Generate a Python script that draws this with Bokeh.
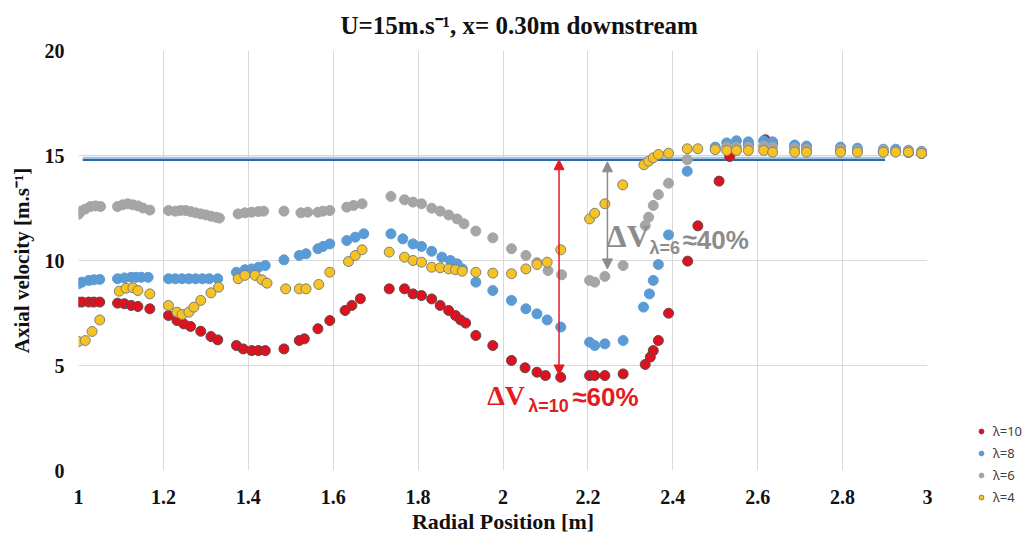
from bokeh.plotting import figure
from bokeh.layouts import row, column
from bokeh.models import (Legend, LegendItem, Arrow, NormalHead, Label,
                          FixedTicker, CustomJSTickFormatter, Range1d)
from bokeh.embed import file_html
from bokeh.resources import INLINE

# Axial velocity profiles 0.30 m downstream, free stream U = 15 m/s
r_l10 = [1.000, 1.008, 1.024, 1.036, 1.050, 1.092, 1.108, 1.124, 1.140, 1.168,
         1.212, 1.232, 1.248, 1.264, 1.288, 1.312, 1.328, 1.372, 1.388, 1.408,
         1.424, 1.440, 1.484, 1.520, 1.532, 1.564, 1.592, 1.628, 1.644, 1.664,
         1.732, 1.768, 1.788, 1.808, 1.832, 1.852, 1.872, 1.888, 1.900, 1.912,
         1.936, 1.976, 2.020, 2.052, 2.080, 2.100, 2.136, 2.204, 2.216, 2.240,
         2.283, 2.335, 2.347, 2.354, 2.366, 2.390, 2.435, 2.459, 2.509, 2.534,
         2.578, 2.618, 2.635, 2.687, 2.715, 2.795, 2.835, 2.896, 2.925, 2.955, 2.986]
v_l10 = [8.02, 8.02, 8.02, 8.02, 8.02, 7.97, 7.94, 7.86, 7.81, 7.70,
         7.38, 7.14, 6.98, 6.86, 6.63, 6.38, 6.22, 5.95, 5.79, 5.71,
         5.71, 5.71, 5.79, 6.19, 6.27, 6.75, 7.14, 7.62, 7.86, 8.18,
         8.65, 8.65, 8.41, 8.33, 8.17, 7.86, 7.62, 7.38, 7.17, 7.02,
         6.43, 5.95, 5.24, 4.89, 4.68, 4.52, 4.44, 4.52, 4.52, 4.52,
         4.60, 5.05, 5.40, 5.71, 6.19, 7.49, 9.97, 11.65, 13.78, 14.95,
         15.50, 15.75, 15.60, 15.40, 15.35, 15.30, 15.25, 15.20, 15.20, 15.15, 15.10]

r_l8 = [1.000, 1.008, 1.024, 1.036, 1.050, 1.092, 1.108, 1.124, 1.136, 1.148, 1.164,
        1.212, 1.228, 1.244, 1.260, 1.276, 1.292, 1.308, 1.328, 1.372, 1.392,
        1.408, 1.424, 1.440, 1.484, 1.520, 1.536, 1.564, 1.576, 1.592, 1.632,
        1.652, 1.672, 1.736, 1.764, 1.788, 1.808, 1.832, 1.856, 1.876, 1.892,
        1.904, 1.936, 1.976, 2.020, 2.054, 2.080, 2.104, 2.136, 2.204, 2.216,
        2.240, 2.283, 2.331, 2.345, 2.354, 2.366, 2.390, 2.434, 2.500, 2.527,
        2.550, 2.578, 2.614, 2.635, 2.687, 2.715, 2.795, 2.835, 2.896, 2.925, 2.955, 2.986]
v_l8 = [8.89, 8.97, 9.05, 9.08, 9.10, 9.13, 9.17, 9.20, 9.20, 9.20, 9.20,
        9.13, 9.13, 9.13, 9.13, 9.13, 9.13, 9.13, 9.13, 9.44, 9.56,
        9.60, 9.68, 9.76, 10.03, 10.24, 10.32, 10.56, 10.67, 10.79, 10.95,
        11.11, 11.27, 11.27, 11.03, 10.79, 10.67, 10.44, 10.16, 10.00, 9.84,
        9.60, 8.97, 8.57, 8.10, 7.70, 7.46, 7.17, 6.83, 6.11, 5.95,
        6.03, 6.19, 7.78, 8.41, 9.05, 9.81, 11.22, 14.25, 15.40, 15.60,
        15.70, 15.65, 15.70, 15.65, 15.50, 15.45, 15.40, 15.35, 15.30, 15.30, 15.25, 15.20]

r_l6 = [1.000, 1.006, 1.016, 1.028, 1.040, 1.052, 1.092, 1.104, 1.116, 1.128,
        1.140, 1.152, 1.168, 1.212, 1.228, 1.240, 1.252, 1.264, 1.276, 1.288,
        1.300, 1.312, 1.324, 1.332, 1.376, 1.392, 1.408, 1.424, 1.436, 1.484,
        1.524, 1.540, 1.564, 1.576, 1.592, 1.632, 1.648, 1.668, 1.736, 1.768,
        1.788, 1.808, 1.832, 1.852, 1.872, 1.892, 1.908, 1.936, 1.976, 2.020,
        2.054, 2.080, 2.106, 2.138, 2.204, 2.216, 2.240, 2.283, 2.335, 2.343,
        2.354, 2.366, 2.390, 2.434, 2.500, 2.527, 2.550, 2.578, 2.614, 2.635,
        2.687, 2.715, 2.795, 2.835, 2.896, 2.925, 2.955, 2.986]
v_l6 = [12.20, 12.35, 12.45, 12.57, 12.60, 12.57, 12.57, 12.65, 12.70, 12.65,
        12.60, 12.50, 12.40, 12.38, 12.35, 12.38, 12.38, 12.33, 12.27, 12.22,
        12.17, 12.11, 12.06, 12.02, 12.22, 12.27, 12.30, 12.33, 12.35, 12.35,
        12.27, 12.30, 12.30, 12.35, 12.38, 12.54, 12.62, 12.70, 13.05, 12.89,
        12.78, 12.70, 12.49, 12.35, 12.17, 11.98, 11.75, 11.40, 11.08, 10.56,
        10.24, 9.90, 9.52, 9.32, 9.05, 8.97, 9.24, 9.76, 11.67, 12.06,
        12.62, 13.14, 13.68, 14.80, 15.30, 15.40, 15.40, 15.40, 15.45, 15.40,
        15.35, 15.30, 15.30, 15.25, 15.25, 15.20, 15.20, 15.15]

r_l4 = [1.000, 1.016, 1.032, 1.050, 1.096, 1.112, 1.128, 1.140, 1.168,
        1.212, 1.232, 1.244, 1.260, 1.272, 1.288, 1.312, 1.330, 1.376, 1.392,
        1.416, 1.432, 1.444, 1.488, 1.520, 1.536, 1.566, 1.592, 1.636, 1.652,
        1.668, 1.732, 1.768, 1.788, 1.808, 1.832, 1.852, 1.872, 1.888, 1.904,
        1.936, 1.976, 2.020, 2.054, 2.080, 2.104, 2.136, 2.204, 2.216, 2.240,
        2.282, 2.332, 2.343, 2.354, 2.366, 2.390, 2.434, 2.459, 2.500, 2.527,
        2.550, 2.578, 2.614, 2.635, 2.687, 2.715, 2.795, 2.835, 2.896, 2.925, 2.955, 2.986]
v_l4 = [6.14, 6.19, 6.62, 7.17, 8.54, 8.68, 8.70, 8.57, 8.41,
        7.86, 7.54, 7.43, 7.54, 7.78, 8.10, 8.46, 8.73, 9.13, 9.29,
        9.29, 9.08, 8.92, 8.65, 8.65, 8.65, 8.86, 9.44, 9.95, 10.24,
        10.51, 10.40, 10.16, 10.00, 9.92, 9.68, 9.65, 9.60, 9.56, 9.49,
        9.44, 9.40, 9.37, 9.60, 9.81, 9.92, 10.51, 11.98, 12.25, 12.70,
        13.60, 14.56, 14.73, 14.89, 15.05, 15.11, 15.32, 15.32, 15.28, 15.24,
        15.24, 15.24, 15.24, 15.16, 15.16, 15.16, 15.16, 15.16, 15.16, 15.16, 15.16, 15.10]

series_labels = ["\u03bb=10", "\u03bb=8", "\u03bb=6", "\u03bb=4"]

# free-stream reference
ref_r = [1.01, 2.90]
ref_v = 14.85

# velocity deficit markers
dv10_r, dv10_lo, dv10_hi = 2.132, 4.55, 14.80
dv6_r, dv6_lo, dv6_hi = 2.246, 9.60, 14.70

x_ticks = [1, 1.2, 1.4, 1.6, 1.8, 2, 2.2, 2.4, 2.6, 2.8, 3]
y_ticks = [0, 5, 10, 15, 20]

SERIF = "Liberation Serif"
SANS = "Liberation Sans"

styles = [dict(fill_color="#e0101e", line_color="#5a4a4a"),
          dict(fill_color="#5b9bd5", line_color="#5b9bd5"),
          dict(fill_color="#a5a5a5", line_color="#a5a5a5"),
          dict(fill_color="#f5c324", line_color="#7f7f7f")]
MSIZE = 10

p = figure(width=950, height=541, output_backend="svg", toolbar_location=None,
           x_range=Range1d(1, 3), y_range=Range1d(0, 20),
           min_border_left=78, min_border_right=23, min_border_top=50,
           min_border_bottom=71,
           title="U=15m.s\u207b\u00b9, x= 0.30m downstream")
p.outline_line_color = None
p.background_fill_color = "white"

p.title.align = "left"
p.title.offset = 262
p.title.standoff = 20
p.title.vertical_align = "top"
p.title.text_font = SERIF
p.title.text_font_size = "25px"
p.title.text_font_style = "bold"
p.title.text_color = "#111111"

for ax in (p.xaxis, p.yaxis):
    ax.axis_line_color = None
    ax.major_tick_line_color = None
    ax.minor_tick_line_color = None
    ax.major_tick_out = 0
    ax.major_tick_in = 0
    ax.major_label_text_font = SERIF
    ax.major_label_text_font_style = "bold"
    ax.major_label_text_font_size = "20px"
    ax.major_label_text_color = "#111111"
    ax.axis_label_text_font = SERIF
    ax.axis_label_text_font_style = "bold"
    ax.axis_label_text_color = "#111111"

p.xaxis.axis_label_text_font_size = "22px"
p.yaxis.axis_label_text_font_size = "21px"
p.xaxis.ticker = FixedTicker(ticks=x_ticks)
p.yaxis.ticker = FixedTicker(ticks=y_ticks)
p.xaxis.formatter = CustomJSTickFormatter(code="return (Math.round(tick*10)/10).toString();")
p.xaxis.major_label_standoff = 19
p.yaxis.major_label_standoff = 14
p.xaxis.axis_label = "Radial Position [m]"
p.yaxis.axis_label = "Axial velocity [m.s\u207b\u00b9]"
p.xaxis.axis_label_standoff = 2
p.yaxis.axis_label_standoff = 8

p.xgrid.grid_line_color = "#d9d9d9"
p.ygrid.grid_line_color = "#d9d9d9"

# reference line
p.line(ref_r, [ref_v, ref_v], line_color="#9dc3e6", line_width=4)
p.line(ref_r, [ref_v - 0.06, ref_v - 0.06], line_color="#2e6aa8", line_width=2)

for rr, vv, st in zip([r_l10, r_l8, r_l6, r_l4], [v_l10, v_l8, v_l6, v_l4], styles):
    p.scatter(rr, vv, size=MSIZE, line_width=1, **st)

# deficit arrows
red = "#e31b23"
grey = "#8c8c8c"
p.add_layout(Arrow(x_start=dv10_r, y_start=dv10_lo, x_end=dv10_r, y_end=dv10_hi,
                   line_color=red, line_width=1.5,
                   start=NormalHead(size=10, fill_color=red, line_color=red),
                   end=NormalHead(size=10, fill_color=red, line_color=red)))
p.add_layout(Arrow(x_start=dv6_r, y_start=dv6_lo, x_end=dv6_r, y_end=dv6_hi,
                   line_color=grey, line_width=1.5,
                   start=NormalHead(size=10, fill_color=grey, line_color=grey),
                   end=NormalHead(size=10, fill_color=grey, line_color=grey)))

def deficit_label(x0, y0, dv_size, sub, sub_dx, sub_dy, pct, pct_dx, color):
    p.add_layout(Label(x=x0, y=y0, text="\u0394V", text_font=SERIF,
                       text_font_style="bold", text_font_size=dv_size,
                       text_color=color))
    p.add_layout(Label(x=x0, y=y0, x_offset=sub_dx, y_offset=sub_dy, text=sub,
                       text_font=SANS, text_font_style="bold",
                       text_font_size="18px", text_color=color))
    p.add_layout(Label(x=x0, y=y0, x_offset=pct_dx, y_offset=-1, text=pct,
                       text_font=SANS, text_font_style="bold",
                       text_font_size="26px", text_color=color))

deficit_label(1.963, 2.81, "28px", "\u03bb=10", 41, -5, "\u224860%", 85, red)
deficit_label(2.244, 10.29, "32px", "\u03bb=6", 43, -4, "\u224840%", 76, grey)

# legend column to the right of the chart; the key glyphs sit on proxy
# renderers whose single point lies outside this panel's visible range
lf = figure(width=76, height=541, output_backend="svg", toolbar_location=None,
            x_range=Range1d(0, 1), y_range=Range1d(0, 1),
            x_axis_location=None, y_axis_location=None,
            min_border=0, min_border_top=0, min_border_bottom=0,
            min_border_left=0, min_border_right=0, outline_line_color=None)
lf.grid.visible = False
if "frame_align" in lf.properties():
    lf.frame_align = False
    p.frame_align = False
proxy_x, proxy_y = [-5], [-5]
items = []
for lab, st in zip(series_labels, styles):
    gr = lf.scatter(proxy_x, proxy_y, size=MSIZE, line_width=1, **st)
    items.append(LegendItem(label=lab, renderers=[gr]))
legend = Legend(items=items, location=(25, 34), border_line_color=None,
                background_fill_alpha=0, label_text_font="Noto Sans",
                label_text_font_size="13px", label_text_color="#404040",
                glyph_width=12, glyph_height=20, label_height=20,
                label_standoff=6, spacing=2, padding=0, margin=0)
lf.add_layout(legend)

open("out.html", "w").write(file_html(row(p, column(lf)), INLINE))
